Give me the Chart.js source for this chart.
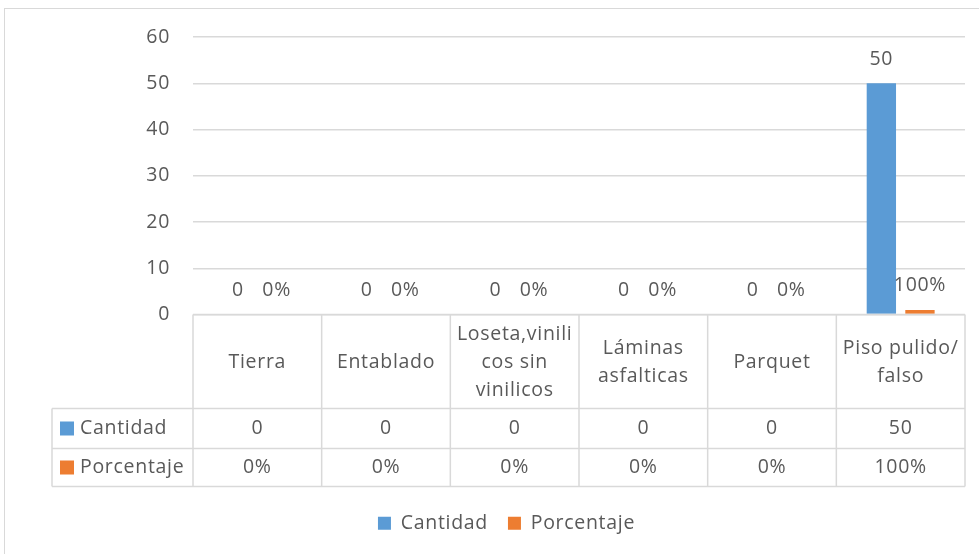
<!DOCTYPE html>
<html>
<head>
<meta charset="utf-8">
<script src="https://cdn.jsdelivr.net/npm/chart.js@4/dist/chart.umd.min.js"></script>
<style>
html,body{margin:0;padding:0;background:#fff;}
#wrap{position:relative;width:979px;height:554px;overflow:hidden;}
#frame{position:absolute;left:4px;top:8px;width:1000px;height:600px;border:1px solid #d9d9d9;box-sizing:border-box;}
canvas{position:absolute;left:0;top:0;}
</style>
</head>
<body>
<div id="wrap">
<div id="frame"></div>
<canvas id="c" width="979" height="554"></canvas>
</div>
<script>
const categories = [["Tierra"],["Entablado"],["Loseta,vinili","cos sin","vinilicos"],["Láminas","asfalticas"],["Parquet"],["Piso pulido/","falso"]];
const cantidad = [0,0,0,0,0,50];
const porcentaje = [0,0,0,0,0,1];
const seriesNames = ["Cantidad","Porcentaje"];
const colors = ["#5b9bd5","#ed7d31"];
const yTicks = [0,10,20,30,40,50,60];

const FONT = "'Open Sans', sans-serif";
const FS = 19.5;
const LS = "0.7px";
const TXT = "#595959";
const GRID = "#d9d9d9";

function fmtCant(v){return String(v);}
function fmtPct(v){return Math.round(v*100)+"%";}

const spacingPlugin = {
  id:'spacing',
  beforeUpdate(chart){ chart.ctx.letterSpacing = LS; },
  beforeLayout(chart){ chart.ctx.letterSpacing = LS; },
  afterLayout(chart){
    if(chart.legend){ chart.legend.left += 24; chart.legend.right += 24; }
  },
  beforeDraw(chart){ chart.ctx.letterSpacing = LS; }
};

const labelPlugin = {
  id:'labels',
  afterDatasetsDraw(chart){
    const ctx = chart.ctx;
    ctx.save();
    ctx.letterSpacing = LS;
    ctx.font = FS + "px " + FONT;
    ctx.fillStyle = TXT;
    ctx.textAlign = "center";
    ctx.textBaseline = "middle";
    chart.data.datasets.forEach((ds,di)=>{
      const meta = chart.getDatasetMeta(di);
      meta.data.forEach((bar,i)=>{
        const v = ds.data[i];
        const t = di===0 ? fmtCant(v) : fmtPct(v);
        ctx.fillText(t, bar.x, bar.y - 24);
      });
    });
    ctx.restore();
  }
};

const tablePlugin = {
  id:'table',
  afterDraw(chart){
    const ctx = chart.ctx;
    const xs = chart.scales.x;
    const area = chart.chartArea;
    const n = categories.length;
    const colW = (area.right-area.left)/n;
    const top = area.bottom;
    const r1 = top + 94, r2 = r1 + 40, r3 = r2 + 38;
    const leftX = 52;
    ctx.save();
    ctx.letterSpacing = LS;
    ctx.strokeStyle = GRID;
    ctx.lineWidth = 1.5;
    ctx.beginPath();
    ctx.moveTo(area.left, top); ctx.lineTo(area.right, top);
    [r1,r2,r3].forEach(y=>{ctx.moveTo(leftX,y);ctx.lineTo(area.right,y);});
    for(let i=0;i<=n;i++){
      const x = area.left + i*colW;
      ctx.moveTo(x, top); ctx.lineTo(x, r3);
    }
    ctx.moveTo(leftX, r1); ctx.lineTo(leftX, r3);
    ctx.stroke();

    ctx.font = FS + "px " + FONT;
    ctx.fillStyle = TXT;
    ctx.textAlign = "center";
    ctx.textBaseline = "middle";
    const lh = 28;
    categories.forEach((lines,i)=>{
      const cx = xs.getPixelForValue(i);
      const cy = (top + r1)/2 + 1;
      const y0 = cy - (lines.length-1)*lh/2;
      lines.forEach((l,k)=>ctx.fillText(l, cx, y0 + k*lh));
      ctx.fillText(fmtCant(cantidad[i]), cx, (r1+r2)/2);
      ctx.fillText(fmtPct(porcentaje[i]), cx, (r2+r3)/2);
    });
    ctx.textAlign = "left";
    [[(r1+r2)/2,0],[(r2+r3)/2,1]].forEach(([y,k])=>{
      ctx.fillStyle = colors[k];
      ctx.fillRect(60, y-7, 14, 14);
      ctx.fillStyle = TXT;
      ctx.fillText(seriesNames[k], 80, y);
    });
    ctx.restore();
  }
};

new Chart(document.getElementById('c'),{
  type:'bar',
  data:{
    labels: categories.map(c=>c.join(' ')),
    datasets:[
      {label:seriesNames[0], data:cantidad, backgroundColor:colors[0]},
      {label:seriesNames[1], data:porcentaje, backgroundColor:colors[1]}
    ]
  },
  options:{
    responsive:false,
    animation:false,
    devicePixelRatio:1,
    layout:{padding:{left:0,right:14,top:37,bottom:11}},
    datasets:{bar:{categoryPercentage:0.6,barPercentage:0.76}},
    scales:{
      x:{
        display:true,
        ticks:{display:false},
        grid:{display:false,drawTicks:false},
        border:{display:false},
        afterFit(s){s.height = 179;}
      },
      y:{
        min:0,max:60,
        afterBuildTicks(s){s.ticks = yTicks.map(v=>({value:v}));},
        ticks:{color:TXT,font:{size:FS,family:FONT},padding:23},
        grid:{color:GRID,lineWidth:1.5,drawTicks:false},
        border:{display:false},
        afterFit(s){s.width = 193;}
      }
    },
    plugins:{
      legend:{
        position:'bottom',
        labels:{color:TXT,font:{size:FS,family:FONT},boxWidth:13,boxHeight:13,padding:20}
      },
      tooltip:{enabled:false}
    }
  },
  plugins:[spacingPlugin,labelPlugin,tablePlugin]
});
</script>
</body>
</html>
